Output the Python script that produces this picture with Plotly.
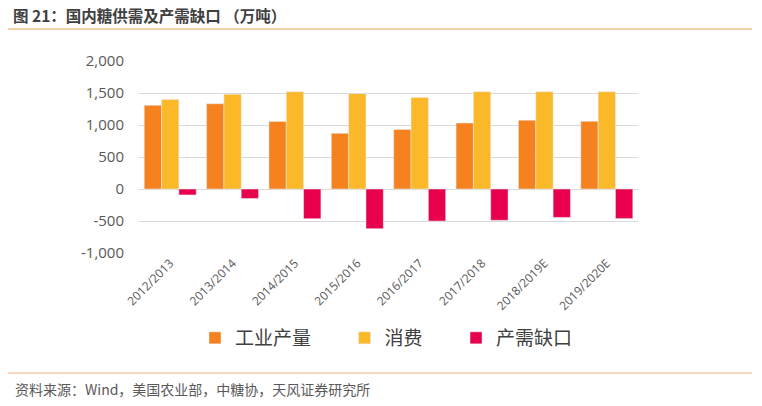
import plotly.graph_objects as go

seasons = ['2012/2013', '2013/2014', '2014/2015', '2015/2016',
           '2016/2017', '2017/2018', '2018/2019E', '2019/2020E']
production = [1307, 1332, 1056, 870, 929, 1031, 1076, 1058]
consumption = [1400, 1480, 1520, 1490, 1430, 1520, 1520, 1520]
gap = [-93, -148, -464, -620, -501, -489, -444, -462]

y_ticks = [-1000, -500, 0, 500, 1000, 1500, 2000]
y_labels = ['-1,000', '-500', '0', '500', '1,000', '1,500', '2,000']

CJK = 'Noto Sans CJK SC'
GREY = '#595959'

W, H = 762, 406
# plot area in page pixels: x 139..638, y 61..253
L, R, T, B = 139, 638, 61, 253


def px(x):
    return (x - L) / (R - L)


def py(y):
    return (B - y) / (B - T)


fig = go.Figure()
fig.add_trace(go.Bar(x=seasons, y=production, name='工业产量\u3000\u2002', marker_color='#F5821F'))
fig.add_trace(go.Bar(x=seasons, y=consumption, name='消费\u3000\u2002', marker_color='#FBB829'))
fig.add_trace(go.Bar(x=seasons, y=gap, name='产需缺口', marker_color='#E8004C'))

fig.update_layout(
    width=W, height=H,
    margin=dict(l=L, r=W - R, t=T, b=H - B),
    paper_bgcolor='white', plot_bgcolor='white',
    barmode='group', bargap=0.167, bargroupgap=0,
    font=dict(family=CJK, color=GREY),
    showlegend=True,
    legend=dict(orientation='h', x=px(195), y=py(338), xanchor='left', yanchor='middle',
                font=dict(family=CJK, size=19, color='#404040'),
                itemwidth=30, traceorder='normal'),
    xaxis=dict(tickangle=-45, tickfont=dict(family='Open Sans', size=12, color=GREY),
               showgrid=False, showline=False, ticks=''),
    yaxis=dict(range=[-1000, 2000], tickvals=y_ticks, ticktext=y_labels,
               tickfont=dict(family='Open Sans', size=15, color=GREY),
               showgrid=True, gridcolor='#D9D9D9', gridwidth=1,
               zeroline=True, zerolinecolor='#D9D9D9', zerolinewidth=1,
               ticks='', ticklabelstandoff=14),
)

fig.add_annotation(text='<b>图 21：国内糖供需及产需缺口 （万吨）</b>', xref='paper', yref='paper',
                   x=px(11), y=py(14.5), xanchor='left', yanchor='middle', showarrow=False,
                   font=dict(family=CJK, size=15.5, color='#404040'))
fig.add_annotation(text='资料来源：Wind，美国农业部，中糖协，天风证券研究所', xref='paper', yref='paper',
                   x=px(13), y=py(389), xanchor='left', yanchor='middle', showarrow=False,
                   font=dict(family=CJK, size=14, color=GREY))
fig.add_shape(type='line', xref='paper', yref='paper', x0=px(8), x1=px(752),
              y0=py(29), y1=py(29), line=dict(color='#E8A24C', width=1))
fig.add_shape(type='line', xref='paper', yref='paper', x0=px(8), x1=px(752),
              y0=py(373), y1=py(373), line=dict(color='#F4B183', width=1))

# drop the browser's default 8px body margin so the figure fills the window
fig.write_html("out.html", config={'displayModeBar': False},
               post_script="document.body.style.margin = '0';")
